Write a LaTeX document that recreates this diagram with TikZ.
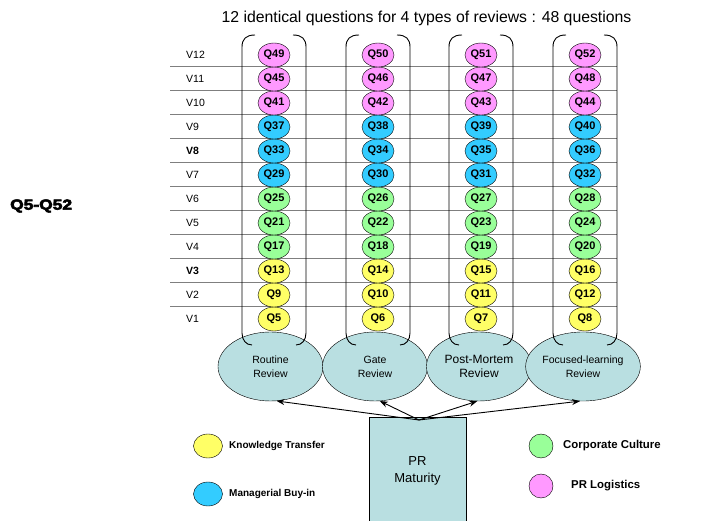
\documentclass[tikz,border=0pt]{standalone}
\usepackage{fontspec}
\setmainfont{Liberation Sans}
\newfontfamily\heavyfont[UprightFont={* Bold},BoldFont={* Bold},FakeBold=4]{Liberation Sans}
\usetikzlibrary{shapes.geometric,arrows.meta}

\definecolor{kt}{HTML}{FFFF66}
\definecolor{cc}{HTML}{99FF99}
\definecolor{mb}{HTML}{33CCFF}
\definecolor{pl}{HTML}{FF99FF}
\definecolor{rev}{HTML}{B9DFE1}
\definecolor{rule}{HTML}{7F7F7F}

\tikzset{
  qnode/.style={ellipse,draw,thin,minimum width=32pt,minimum height=24pt,inner sep=0pt,
    font=\bfseries\fontsize{11}{12}\selectfont},
  vlabel/.style={anchor=west,inner sep=0pt,font=\fontsize{10.5}{12}\selectfont},
  review/.style={ellipse,draw,thin,fill=rev,minimum width=105pt,minimum height=69pt,
    inner sep=0pt,align=center,font=\fontsize{10.5}{14}\selectfont},
  bracket/.style={draw,line width=0.9pt},
  rowline/.style={draw=rule,line width=1pt},
  legenddot/.style={ellipse,draw,thin,minimum height=24pt,inner sep=0pt},
  legendtext/.style={anchor=west,inner sep=0pt,font=\bfseries\fontsize{10}{12}\selectfont},
  arr/.style={-{Stealth[length=8pt,width=6pt]},line width=0.9pt},
}

\begin{document}
\begin{tikzpicture}[x=1pt,y=-1pt]
\useasboundingbox (0,0) rectangle (705,521);
\clip (0,0) rectangle (705,521);

% heading and side label
\node[font=\fontsize{15.8}{18}\selectfont] (title) at (426.5,18)
  {12 identical questions for 4 types of reviews : 48 questions};
\node[anchor=west,inner sep=0pt,font=\heavyfont\fontsize{14.5}{16}\selectfont]
  (range) at (10,206) {\scalebox{1.2}[1]{Q5-Q52}};

% row separators
\foreach \k in {0,...,10}
  \draw[rowline] (170,{307-24*\k}) -- (617,{307-24*\k});

% version labels
\foreach \i in {1,2,4,5,6,7,9,10,11,12}
  \node[vlabel] (v\i) at (186,{319-24*(\i-1)}) {V\i};
\node[vlabel,font=\bfseries\fontsize{10.5}{12}\selectfont] (v3) at (186,271) {V3};
\node[vlabel,font=\bfseries\fontsize{10.5}{12}\selectfont] (v8) at (186,151) {V8};

% review types
\node[review] (r1) at (270.5,366.5) {Routine\\Review};
\node[review] (r2) at (375,366.5) {Gate\\Review};
\node[review,font=\fontsize{12}{14}\selectfont] (r3) at (479,366.5) {Post-Mortem\\Review};
\node[review,font=\fontsize{10.5}{14}\selectfont] (r4) at (583,366.5) {Focused-learning\\Review};

% column brackets
\foreach \cx in {274,378,481,585} {
  \draw[bracket] ({\cx-19},35) .. controls ({\cx-28},35) and ({\cx-32},39) .. ({\cx-32},47)
    -- ({\cx-32},333) .. controls ({\cx-32},340) and ({\cx-28},345) .. ({\cx-22},345);
  \draw[bracket] ({\cx+19},35) .. controls ({\cx+28},35) and ({\cx+32},39) .. ({\cx+32},47)
    -- ({\cx+32},333) .. controls ({\cx+32},340) and ({\cx+28},345) .. ({\cx+22},345);
}

% questions
\foreach \j/\cx in {0/274,1/378,2/481,3/585}
  \foreach \i/\col in {1/kt,2/kt,3/kt,4/cc,5/cc,6/cc,7/mb,8/mb,9/mb,10/pl,11/pl,12/pl} {
    \pgfmathtruncatemacro\q{5+4*(\i-1)+\j}
    \node[qnode,fill=\col] (q\q) at (\cx,{319-24*(\i-1)}) {Q\q};
  }

% maturity block
\node[draw,thin,fill=rev,minimum width=97pt,minimum height=108pt,inner sep=0pt,
  align=center,font=\fontsize{13}{17}\selectfont] (pr) at (417.5,471) {PR\\Maturity};
\coordinate (src) at (419,420);
\draw[arr] (src) -- (r1.-80);
\draw[arr] (src) -- (r2.-82);
\draw[arr] (src) -- (r3.-93);
\draw[arr] (src) -- (r4.-95);

% legend
\node[legenddot,minimum width=29pt,fill=kt] (lkt) at (208,446) {};
\node[legendtext] (tkt) at (229,446) {Knowledge Transfer};
\node[legenddot,minimum width=29pt,fill=mb] (lmb) at (208,494) {};
\node[legendtext] (tmb) at (229,494) {Managerial Buy-in};
\node[legenddot,minimum width=24pt,fill=cc] (lcc) at (541,446) {};
\node[legendtext,font=\bfseries\fontsize{11.4}{13}\selectfont] (tcc) at (563,446) {Corporate Culture};
\node[legenddot,minimum width=24pt,fill=pl] (lpl) at (541,486) {};
\node[legendtext,font=\bfseries\fontsize{11.4}{13}\selectfont] (tpl) at (571,486) {PR Logistics};
\end{tikzpicture}
\end{document}
